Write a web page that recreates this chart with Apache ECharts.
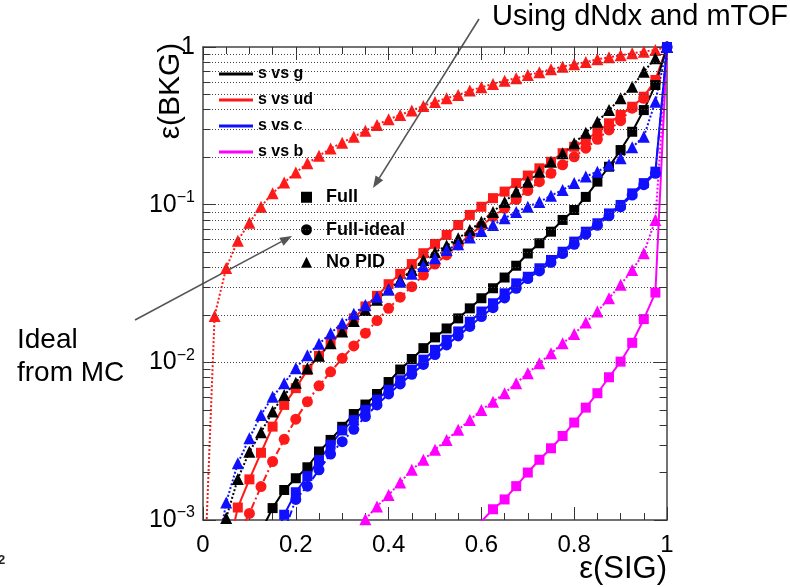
<!DOCTYPE html>
<html>
<head>
<meta charset="utf-8">
<script src="https://cdn.jsdelivr.net/npm/echarts@6/dist/echarts.min.js"></script>
<style>html,body{margin:0;padding:0;background:#fff}#c{width:790px;height:587px}</style>
</head>
<body>
<div id="c"></div>
<script>
// ---- data (signal efficiency grid shared by all curves) ----
const sigEff = [0.025,0.05,0.075,0.1,0.125,0.15,0.175,0.2,0.225,0.25,0.275,0.3,0.325,0.35,0.375,0.4,0.425,0.45,0.475,0.5,0.525,0.55,0.575,0.6,0.625,0.65,0.675,0.7,0.725,0.75,0.775,0.8,0.825,0.85,0.875,0.9,0.925,0.95,0.975,1.0];

// s vs ud
const udNoPidLowX = [0.005];
const udNoPidLowY = [0.0006];
const udNoPID = [0.0197,0.0397,0.0591,0.0769,0.0971,0.118,0.138,0.160,0.183,0.204,0.227,0.247,0.270,0.294,0.320,0.348,0.371,0.395,0.423,0.448,0.473,0.496,0.529,0.555,0.583,0.611,0.633,0.664,0.691,0.722,0.750,0.777,0.803,0.836,0.860,0.886,0.912,0.934,0.957,1.0];
const udFull = [null,0.00056,0.0012,0.00181,0.00267,0.00391,0.00537,0.00686,0.00895,0.011,0.0132,0.016,0.019,0.0226,0.0264,0.0313,0.0364,0.042,0.0492,0.0564,0.0643,0.0743,0.0861,0.097,0.110,0.121,0.137,0.153,0.170,0.187,0.212,0.233,0.257,0.290,0.328,0.371,0.418,0.484,0.618,1.0];
const udIdeal = [null,null,0.0008,0.0011,0.00163,0.00235,0.00325,0.00436,0.00563,0.0071,0.0087,0.0106,0.0127,0.0153,0.0184,0.022,0.0259,0.0302,0.0358,0.042,0.048,0.0555,0.0643,0.0733,0.084,0.0948,0.108,0.123,0.140,0.158,0.179,0.201,0.228,0.260,0.298,0.341,0.409,0.473,0.60,1.0];
// s vs g
const gFull = [null,null,null,null,0.00085,0.00119,0.00155,0.00184,0.00216,0.00272,0.00322,0.0039,0.0047,0.0054,0.0063,0.0075,0.009,0.0105,0.0123,0.0144,0.0164,0.019,0.022,0.0255,0.0295,0.0345,0.041,0.049,0.0569,0.0674,0.080,0.0925,0.112,0.140,0.174,0.222,0.290,0.398,0.574,1.0];
const gNoPID = [null,0.00103,0.00182,0.00271,0.0036,0.00487,0.00621,0.00743,0.00918,0.011,0.0132,0.0157,0.0183,0.0215,0.0249,0.029,0.0333,0.0385,0.0446,0.050,0.055,0.0612,0.069,0.078,0.090,0.104,0.121,0.140,0.162,0.187,0.212,0.245,0.286,0.336,0.398,0.473,0.56,0.697,0.848,1.0];
// s vs c
const cNoPID = [0.0005,0.00129,0.00229,0.0033,0.00464,0.00606,0.00737,0.00918,0.0111,0.0131,0.0153,0.0177,0.0203,0.0231,0.0261,0.0291,0.0325,0.0364,0.0409,0.0457,0.0516,0.056,0.062,0.068,0.0743,0.082,0.090,0.097,0.104,0.114,0.124,0.137,0.151,0.162,0.179,0.197,0.231,0.270,0.450,1.0];
const cFull = [null,null,null,null,null,0.0007,0.00108,0.0015,0.0019,0.0024,0.0030,0.0037,0.0043,0.0050,0.0058,0.0067,0.0077,0.0090,0.0104,0.0120,0.0139,0.0157,0.0181,0.0210,0.0237,0.0274,0.0317,0.0349,0.0395,0.0446,0.0503,0.0583,0.0674,0.0762,0.088,0.0996,0.118,0.137,0.162,1.0];
const cIdeal = [null,null,null,null,null,null,0.00085,0.00135,0.00164,0.00208,0.00262,0.00314,0.00376,0.00453,0.00537,0.0063,0.0073,0.0084,0.0097,0.0112,0.0129,0.0147,0.0169,0.0195,0.0222,0.0256,0.0295,0.034,0.038,0.043,0.049,0.056,0.065,0.074,0.085,0.097,0.115,0.134,0.158,1.0];
// s vs b
const bFull = [null,null,null,null,null,null,null,null,null,null,null,null,null,null,null,null,null,null,null,null,null,null,null,0.00098,0.00117,0.00135,0.00164,0.0020,0.00241,0.00285,0.00341,0.00415,0.00516,0.00637,0.00804,0.0101,0.0133,0.0188,0.0277,1.0];
const bNoPID = [null,null,null,null,null,null,null,null,null,null,null,null,0.0008,0.00101,0.00122,0.00144,0.00173,0.00208,0.00241,0.00279,0.00322,0.00373,0.00431,0.00499,0.00563,0.00637,0.00737,0.00853,0.00987,0.0114,0.0132,0.0151,0.0179,0.021,0.0255,0.031,0.0385,0.0492,0.080,1.0];

// ---- ticks & labels ----
const xTickLabels = ['0','0.2','0.4','0.6','0.8','1'];
const yTickExponents = [-3,-2,-1,0];
const yMinorValues = [0.002,0.003,0.004,0.005,0.006,0.007,0.008,0.009,0.01,0.02,0.03,0.04,0.05,0.06,0.07,0.08,0.09,0.1,0.2,0.3,0.4,0.5,0.6,0.7,0.8,0.9];
const colorLegend = ['s vs g','s vs ud','s vs c','s vs b'];
const markerLegend = ['Full','Full-ideal','No PID'];

const FONT = '"Liberation Sans", Arial, Helvetica, sans-serif';
const COL = {g:'#000000', ud:'#ff1a1a', c:'#1010ff', b:'#ff00ff'};
const SYM = {Full:['rect',10], Ideal:['circle',11], NoPID:['triangle',12]};
const DASH = {Full:'solid', Ideal:[7,3,2,3], NoPID:[2,2]};

function pairs(ys, preX, preY){
  const out = [];
  if (preX) preX.forEach((x,i)=>out.push([x, preY[i]]));
  sigEff.forEach((x,i)=>{ if (ys[i] != null) out.push([x, ys[i]]); });
  return out;
}
function mk(name, color, kind, ys, preX, preY){
  return {
    name: name, type:'line', data: pairs(ys, preX, preY),
    symbol: SYM[kind][0], symbolSize: SYM[kind][1],
    itemStyle:{color: color}, lineStyle:{color: color, width: 2, type: DASH[kind]},
    clip: true, silent: true, animation:false, emphasis:{disabled:true}
  };
}

const gridLines = yMinorValues.map(v => ({yAxis: v}));
const tickSegs = [];
yMinorValues.forEach(v => {
  const isMajor = Math.abs(Math.log10(v) - Math.round(Math.log10(v))) < 1e-6;
  if (isMajor) return;
  tickSegs.push([{coord:[0, v]}, {coord:[0.016, v]}]);
  tickSegs.push([{coord:[0.984, v]}, {coord:[1, v]}]);
});

const series = [
  Object.assign(mk('s vs b', COL.b, 'NoPID', bNoPID), {
    markLine: {silent:true, symbol:['none','none'], animation:false, label:{show:false},
      lineStyle:{color:'#444', width:1, type:[1,2]}, data: gridLines}
  }),
  mk('s vs b', COL.b, 'Full', bFull),
  mk('s vs ud', COL.ud, 'NoPID', udNoPID, udNoPidLowX, udNoPidLowY),
  mk('s vs ud', COL.ud, 'Full', udFull),
  mk('s vs ud', COL.ud, 'Ideal', udIdeal),
  Object.assign(mk('s vs g', COL.g, 'Full', gFull), {
    markLine: {silent:true, symbol:['none','none'], animation:false, label:{show:false},
      lineStyle:{color:'#333', width:1, type:'solid'}, data: tickSegs}
  }),
  mk('s vs c', COL.c, 'Ideal', cIdeal),
  mk('s vs g', COL.g, 'NoPID', gNoPID),
  mk('s vs c', COL.c, 'NoPID', cNoPID),
  mk('s vs c', COL.c, 'Full', cFull),
  {name:'Full', type:'line', data:[], itemStyle:{color:'#000'}},
  {name:'Full-ideal', type:'line', data:[], itemStyle:{color:'#000'}},
  {name:'No PID', type:'line', data:[], itemStyle:{color:'#000'}}
];

function arrow(x1,y1,x2,y2){
  const dx = x2-x1, dy = y2-y1, L = Math.sqrt(dx*dx+dy*dy);
  const ux = dx/L, uy = dy/L, hl = 12, hw = 4.5;
  const bx = x2-hl*ux, by = y2-hl*uy;
  return [
    {type:'line', silent:true, shape:{x1:x1,y1:y1,x2:bx,y2:by}, style:{stroke:'#555', lineWidth:1.6}},
    {type:'polygon', silent:true, shape:{points:[[x2,y2],[bx-hw*uy,by+hw*ux],[bx+hw*uy,by-hw*ux]]}, style:{fill:'#555'}}
  ];
}

const axisLineStyle = {color:'#444', width:1.5};
const option = {
  animation: false,
  backgroundColor: '#ffffff',
  grid: {left:203, right:123, top:47, bottom:67, outerBoundsMode:'none', containLabel:false},
  xAxis: [
    {type:'value', min:0, max:1, interval:0.2, position:'bottom',
     axisLine:{show:true, onZero:false, lineStyle:axisLineStyle},
     axisTick:{show:true, inside:true, length:13, lineStyle:{color:'#333', width:1}},
     minorTick:{show:true, splitNumber:4, length:7, lineStyle:{color:'#333', width:1}},
     splitLine:{show:false}, minorSplitLine:{show:false},
     axisLabel:{show:true, margin:13, color:'#000', fontFamily:FONT, fontSize:24,
       formatter: v => xTickLabels[Math.round(v/0.2)]}},
    {type:'value', min:0, max:1, interval:0.2, position:'top',
     axisLine:{show:true, onZero:false, lineStyle:axisLineStyle},
     axisTick:{show:true, inside:true, length:13, lineStyle:{color:'#333', width:1}},
     minorTick:{show:true, splitNumber:4, length:7, lineStyle:{color:'#333', width:1}},
     splitLine:{show:false}, axisLabel:{show:false}}
  ],
  yAxis: [
    {type:'log', logBase:10, min:0.001, max:1, position:'left',
     axisLine:{show:true, onZero:false, lineStyle:axisLineStyle},
     axisTick:{show:true, inside:true, length:13, lineStyle:{color:'#333', width:1}},
     splitLine:{show:false},
     axisLabel:{show:true, margin:8, color:'#000', fontFamily:FONT,
       formatter: v => {
         const e = Math.round(Math.log10(v));
         const idx = yTickExponents.indexOf(e);
         if (idx < 0) return '';
         return yTickExponents[idx] === 0 ? '{b|1}' : '{b|10}{s|\u2212' + (-yTickExponents[idx]) + '}';
       },
       rich:{b:{fontSize:25, fontFamily:FONT, color:'#000'}, s:{fontSize:16, fontFamily:FONT, color:'#000', padding:[0,0,14,0]}}}},
    {type:'log', logBase:10, min:0.001, max:1, position:'right',
     axisLine:{show:true, onZero:false, lineStyle:axisLineStyle},
     axisTick:{show:true, inside:true, length:13, lineStyle:{color:'#333', width:1}},
     splitLine:{show:false}, axisLabel:{show:false}}
  ],
  legend: [
    {orient:'vertical', left:214, top:60, itemWidth:34, itemHeight:3, itemGap:8, icon:'rect',
     selectedMode:false, data: colorLegend,
     textStyle:{fontFamily:FONT, fontWeight:'bold', fontSize:16, color:'#000', lineHeight:18}},
    {orient:'vertical', left:296, top:182, itemWidth:11, itemHeight:11, itemGap:12,
     selectedMode:false,
     data: [{name:markerLegend[0], icon:'rect'},{name:markerLegend[1], icon:'circle'},{name:markerLegend[2], icon:'triangle'}],
     textStyle:{fontFamily:FONT, fontWeight:'bold', fontSize:18, color:'#000', lineHeight:20.5, padding:[0,0,0,9]}}
  ],
  graphic: [
    {type:'text', silent:true, style:{text:'Using dNdx and mTOF', x:492, y:17, font:'29px ' + FONT, fill:'#000', textAlign:'left', textVerticalAlign:'middle'}},
    {type:'text', silent:true, style:{text:'Ideal', x:17, y:340, font:'28px ' + FONT, fill:'#000', textAlign:'left', textVerticalAlign:'middle'}},
    {type:'text', silent:true, style:{text:'from MC', x:17, y:373, font:'28px ' + FONT, fill:'#000', textAlign:'left', textVerticalAlign:'middle'}},
    {type:'text', silent:true, x:171, y:91, rotation:Math.PI/2, style:{text:'\u03b5(BKG)', x:0, y:0, font:'30px ' + FONT, fill:'#000', textAlign:'center', textVerticalAlign:'middle'}},
    {type:'text', silent:true, style:{text:'\u03b5(SIG)', x:667, y:569, font:'31px ' + FONT, fill:'#000', textAlign:'right', textVerticalAlign:'middle'}},
    {type:'text', silent:true, style:{text:'2', x:-2, y:560, font:'bold 13px ' + FONT, fill:'#222', textAlign:'left', textVerticalAlign:'middle'}}
  ].concat(arrow(479,19,373,188), arrow(135,320,292,236)),
  series: series
};

const chart = echarts.init(document.getElementById('c'), null, {renderer:'canvas'});
chart.setOption(option);
</script>
</body>
</html>
